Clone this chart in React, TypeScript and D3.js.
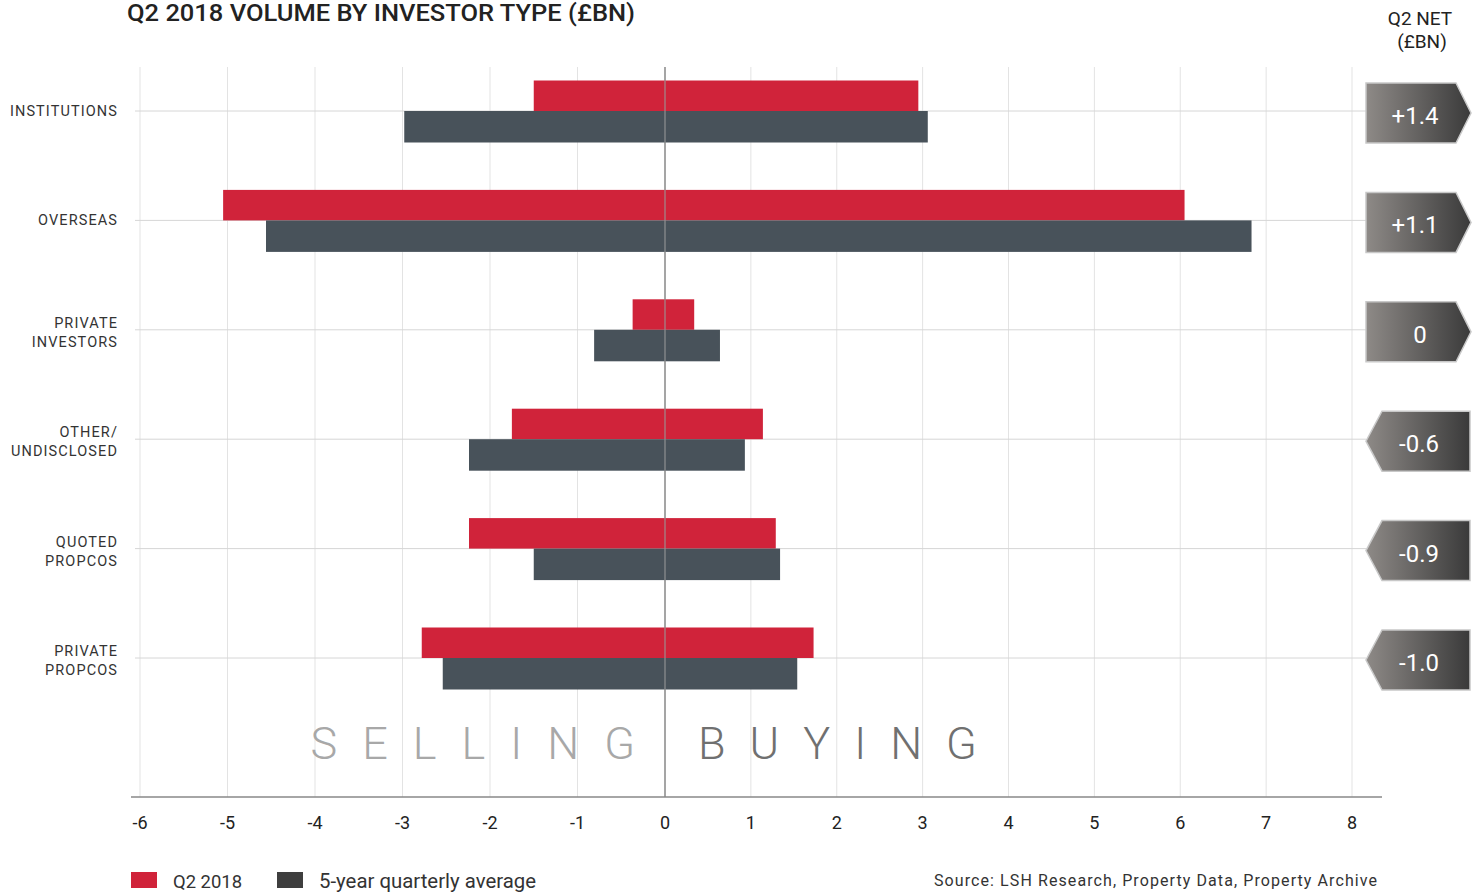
import React from "react";
import * as d3 from "d3";

const categories = ["INSTITUTIONS", "OVERSEAS", "PRIVATE\nINVESTORS", "OTHER/\nUNDISCLOSED", "QUOTED\nPROPCOS", "PRIVATE\nPROPCOS"];
const q2Sell = [-1.5, -5.05, -0.37, -1.75, -2.24, -2.78];
const q2Buy = [2.95, 6.05, 0.34, 1.14, 1.29, 1.73];
const avgSell = [-2.98, -4.56, -0.81, -2.24, -1.5, -2.54];
const avgBuy = [3.06, 6.83, 0.64, 0.93, 1.34, 1.54];
const netLabels = ["+1.4", "+1.1", "0", "-0.6", "-0.9", "-1.0"];
const netValues = [1.4, 1.1, 0, -0.6, -0.9, -1.0];
const xTicks = [-6, -5, -4, -3, -2, -1, 0, 1, 2, 3, 4, 5, 6, 7, 8];

const RED = "#d0233a";
const GREY = "#48525a";
const FONT = "Roboto, 'DejaVu Sans', sans-serif";

export default function App() {
  const W = 1481, H = 896;
  const x = d3.scaleLinear().domain([-6, 0, 8]).range([140, 665, 1352]);
  const y = d3.scalePoint<string>().domain(categories).range([111, 658]);
  const barH = 30.5;
  const top = 67, axisY = 797;

  return (
    <svg width={W} height={H} style={{ position: "absolute", left: 0, top: 0, background: "#fff" }}>
      <defs>
        <linearGradient id="netGrad" x1="0" x2="1" y1="0" y2="0">
          <stop offset="0%" stopColor="#8e8a87" />
          <stop offset="100%" stopColor="#3a3a3a" />
        </linearGradient>
      </defs>
      <text x={127} y={21} fontFamily={FONT} fontSize={23} fontWeight={500} fill="#222" textLength={508} lengthAdjust="spacingAndGlyphs">Q2 2018 VOLUME BY INVESTOR TYPE (£BN)</text>
      <text x={1420} y={25} textAnchor="middle" fontFamily={FONT} fontSize={19} fill="#222">Q2 NET</text>
      <text x={1422} y={48} textAnchor="middle" fontFamily={FONT} fontSize={19} fill="#222">(£BN)</text>

      {/* vertical grid */}
      {xTicks.map((t) => (
        <line key={"g" + t} x1={x(t)} x2={x(t)} y1={top} y2={axisY} stroke={t === 0 ? "#9a9a9a" : "#e3e3e3"} strokeWidth={t === 0 ? 1.5 : 1} />
      ))}
      {/* category lines */}
      {categories.map((c) => (
        <line key={"h" + c} x1={135} x2={1366} y1={y(c)} y2={y(c)} stroke="#d6d6d6" strokeWidth={1} />
      ))}

      {/* bars */}
      {categories.map((c, i) => {
        const cy = y(c)!;
        return (
          <g key={"b" + c}>
            <rect x={x(q2Sell[i])} y={cy - barH} width={x(q2Buy[i]) - x(q2Sell[i])} height={barH} fill={RED} />
            <rect x={x(avgSell[i])} y={cy} width={x(avgBuy[i]) - x(avgSell[i])} height={barH + 1} fill={GREY} />
          </g>
        );
      })}
      <line x1={x(0)} x2={x(0)} y1={top} y2={axisY} stroke="#9a9a9a" strokeWidth={1.5} opacity={0.7} />

      {/* category labels */}
      {categories.map((c) => {
        const lines = c.split("\n");
        const cy = y(c)!;
        return (
          <text key={"l" + c} textAnchor="end" fontFamily={FONT} fontSize={14.5} letterSpacing={1.1} fill="#333">
            {lines.map((ln, k) => (
              <tspan key={k} x={118} y={lines.length === 1 ? cy + 5 : cy - 2 + k * 19}>{ln}</tspan>
            ))}
          </text>
        );
      })}

      {/* net boxes */}
      {categories.map((c, i) => {
        const cy = y(c)! + 2;
        const h = 60;
        let pts: string;
        if (netValues[i] >= 0) {
          pts = `1366,${cy - h / 2} 1456,${cy - h / 2} 1471,${cy} 1456,${cy + h / 2} 1366,${cy + h / 2}`;
        } else {
          pts = `1382,${cy - h / 2} 1470,${cy - h / 2} 1470,${cy + h / 2} 1382,${cy + h / 2} 1366,${cy}`;
        }
        return (
          <g key={"n" + c}>
            <polygon points={pts} fill="url(#netGrad)" stroke="#c8c8c8" strokeWidth={1.5} />
            <text x={netValues[i] > 0 ? 1415 : netValues[i] === 0 ? 1420 : 1419} y={cy + 11} textAnchor="middle" fontFamily={FONT} fontSize={24} fill="#fff">{netLabels[i]}</text>
          </g>
        );
      })}

      {/* SELLING / BUYING */}
      <text x={x(0) - 30} y={759} textAnchor="end" fontFamily={FONT} fontWeight={300} fontSize={45} letterSpacing={25} fill="#a8a8a8" dx={25}>SELLING</text>
      <text x={x(0) + 33} y={759} textAnchor="start" fontFamily={FONT} fontWeight={300} fontSize={45} letterSpacing={24} fill="#707070">BUYING</text>

      {/* x axis */}
      <line x1={131} x2={1382} y1={axisY} y2={axisY} stroke="#888" strokeWidth={1.5} />
      {xTicks.map((t) => (
        <text key={"t" + t} x={x(t)} y={829} textAnchor="middle" fontFamily={FONT} fontSize={18} fill="#222">{t}</text>
      ))}

      {/* legend */}
      <rect x={131} y={872} width={26} height={16} fill={RED} />
      <text x={173} y={888} fontFamily={FONT} fontSize={19} fill="#333" textLength={69} lengthAdjust="spacingAndGlyphs">Q2 2018</text>
      <rect x={277} y={872} width={26} height={16} fill="#3e3e3e" />
      <text x={319} y={888} fontFamily={FONT} fontSize={20} fill="#333" textLength={217} lengthAdjust="spacingAndGlyphs">5-year quarterly average</text>

      <text x={934} y={886} fontFamily={FONT} fontSize={16} fill="#333" textLength={443} lengthAdjust="spacing">Source: LSH Research, Property Data, Property Archive</text>
    </svg>
  );
}
